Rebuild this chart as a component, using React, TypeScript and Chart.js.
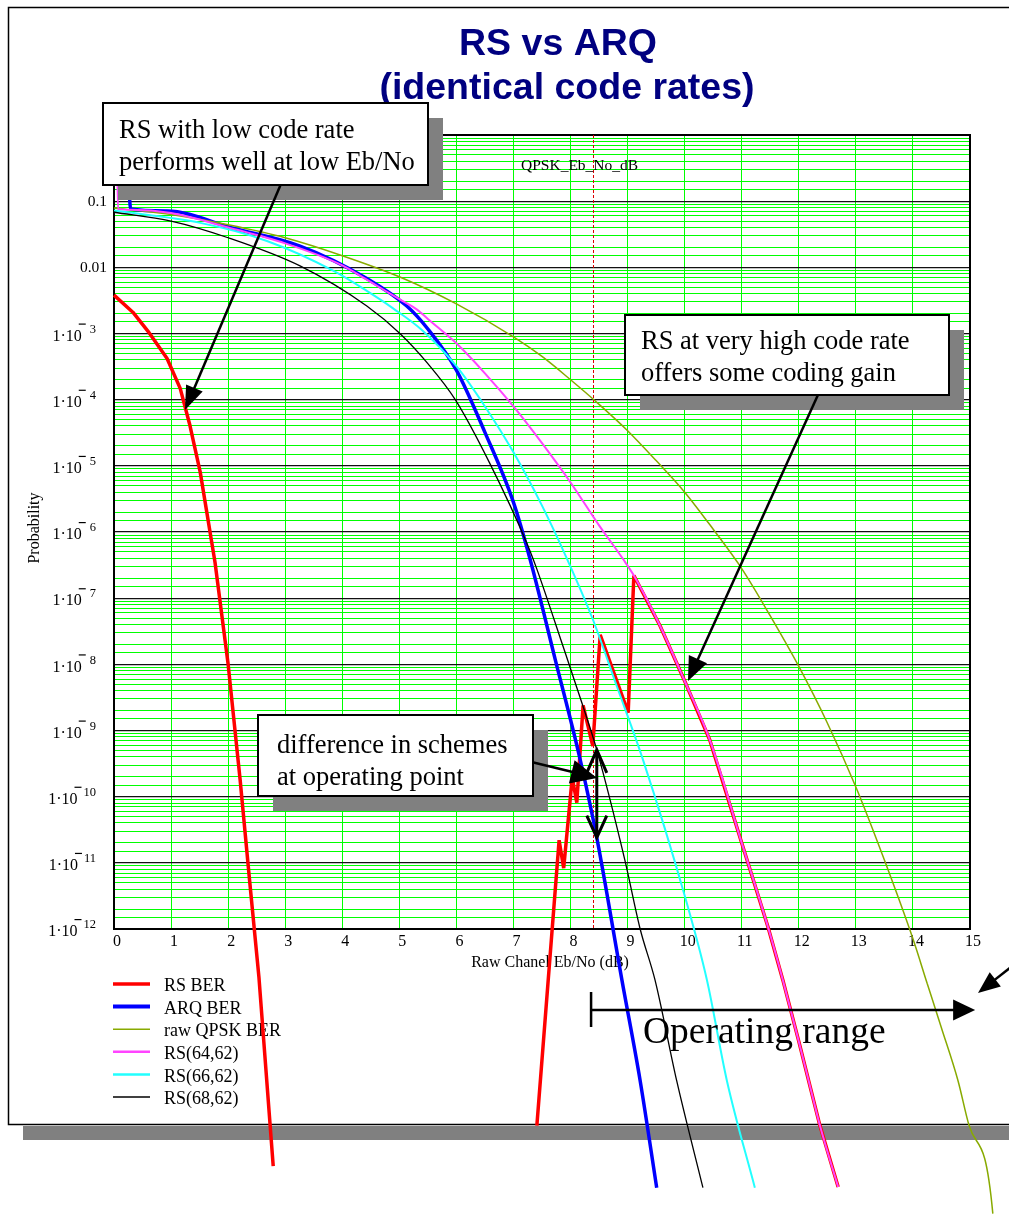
import React, { useEffect, useRef } from "react";
import { Chart, registerables } from "chart.js";

Chart.register(...registerables);

// ---------------- data ----------------
const TITLE_LINES = ["RS vs ARQ", "(identical code rates)"];
const X_AXIS_TITLE = "Raw Chanel Eb/No (dB)";
const Y_AXIS_TITLE = "Probability";
const X_TICK_LABELS = ["0", "1", "2", "3", "4", "5", "6", "7", "8", "9", "10", "11", "12", "13", "14", "15"];
const Y_DECADE_EXPONENTS = [-12, -11, -10, -9, -8, -7, -6, -5, -4, -3, -2, -1, 0];
const Y_MINOR_STEPS = [1.5, 2, 3, 4, 5, 6, 7, 8, 9];

const SERIES_LABELS = ["RS BER", "ARQ BER", "raw QPSK BER", "RS(64,62)", "RS(66,62)", "RS(68,62)"];

// RS BER (adaptive): low-rate part, gap, high-rate part
const RS_BER_X = [0, 0.33, 0.6, 0.93, 1.16, 1.33, 1.51, 1.77, 2.0, 2.21, 2.38, 2.54, 2.79,
  5,
  7.41, 7.8, 7.88, 8.03, 8.11, 8.22, 8.39, 8.52, 9.01, 9.11, 9.57, 10.0, 10.44, 11.0, 11.46, 11.72, 12.0, 12.2, 12.37, 12.69];
const RS_BER_Y = [3.8e-3, 2.1e-3, 1.07e-3, 4.2e-4, 1.48e-4, 4.1e-5, 8.1e-6, 3.5e-7, 1.0e-8, 1.8e-10, 5.0e-12, 1.86e-13, 2.6e-16,
  null,
  1.07e-15, 2.2e-11, 8.3e-12, 1.95e-10, 8.1e-11, 2.4e-9, 5.8e-10, 2.8e-8, 1.86e-9, 2.2e-7, 3.8e-8, 5.6e-9, 7.2e-10, 2.0e-11, 1.07e-12, 1.7e-13, 2.0e-14, 4.1e-15, 1.07e-15, 1.26e-16];

const ARQ_BER_X = [0.27, 0.29, 0.93, 2.09, 3.26, 4.43, 5.13, 5.5, 6, 6.5, 7, 7.29, 7.73, 8.17, 8.46, 8.9, 9.22, 9.51];
const ARQ_BER_Y = [1.2e-1, 7.6e-2, 7.1e-2, 3.9e-2, 2.1e-2, 6.8e-3, 2.6e-3, 1.17e-3, 2.8e-4, 3.2e-5, 2.8e-6, 3.9e-7, 1.2e-8, 3.6e-10, 2.4e-11, 1.7e-13, 5.1e-15, 1.23e-16];

const RAW_QPSK_X = [0, 1, 2, 3, 4, 5, 6, 7, 7.5, 8, 8.5, 9, 9.5, 10, 10.5, 11, 11.5, 12, 12.5, 13, 13.5, 14, 14.25, 14.5, 14.79, 14.98, 15.4, 15.43];
const RAW_QPSK_Y = [7.9e-2, 6.3e-2, 4.4e-2, 2.8e-2, 1.5e-2, 7.2e-3, 2.8e-3, 8.9e-4, 4.5e-4, 2.0e-4, 8.5e-5, 3.4e-5, 1.2e-5, 4.0e-6, 1.1e-6, 2.8e-7, 5.4e-8, 9.3e-9, 1.3e-9, 1.4e-10, 1.1e-11, 7.1e-13, 1.5e-13, 3.2e-14, 5.1e-15, 1.1e-15, 5.0e-17, 1.5e-17];

const RS64_X = [0.05, 0.07, 0.3, 1, 2, 3, 4, 4.43, 5, 5.31, 5.5, 6, 6.5, 7, 7.5, 8, 8.5, 8.92, 9.11, 9.57, 10, 10.44, 11, 11.46, 11.72, 12, 12.2, 12.37, 12.69];
const RS64_Y = [1, 7.6e-2, 7.4e-2, 6.6e-2, 4.0e-2, 2.3e-2, 1.07e-2, 6.5e-3, 3.3e-3, 2.3e-3, 1.66e-3, 7.1e-4, 2.5e-4, 7.9e-5, 2.2e-5, 5.6e-6, 1.26e-6, 3.9e-7, 2.2e-7, 3.8e-8, 5.6e-9, 7.2e-10, 2.0e-11, 1.07e-12, 1.7e-13, 2.0e-14, 4.1e-15, 1.07e-15, 1.26e-16];

const RS66_X = [0, 1.51, 2.68, 3.84, 4.43, 4.89, 5.4, 6, 6.5, 7, 7.5, 7.94, 8.39, 8.81, 9.27, 10, 10.39, 10.74, 11.23];
const RS66_Y = [7.2e-2, 4.7e-2, 2.5e-2, 8.9e-3, 4.4e-3, 2.4e-3, 1.12e-3, 3.2e-4, 7.9e-5, 1.6e-5, 2.5e-6, 3.9e-7, 4.8e-8, 4.7e-9, 3.6e-10, 3.2e-12, 1.7e-13, 5.1e-15, 1.23e-16];

const RS68_X = [0, 1, 2, 3.26, 4.43, 5.01, 5.5, 5.98, 6.59, 7.24, 7.41, 7.87, 8.22, 8.46, 8.95, 9.22, 9.48, 9.86, 10.32];
const RS68_Y = [6.8e-2, 5.0e-2, 2.8e-2, 1.05e-2, 2.6e-3, 1.0e-3, 3.5e-4, 1.0e-4, 1.07e-5, 6.6e-7, 2.75e-7, 1.86e-8, 2.3e-9, 5.1e-10, 1.12e-11, 1.0e-12, 1.7e-13, 5.1e-15, 1.23e-16];

const MARKER_DB = 8.39;
const MARKER_LABEL = "QPSK_Eb_No_dB";
const OPERATING_RANGE_DB = [8.36, 15.09];
const OPERATING_RANGE_LABEL = "Operating range";
const OPERATING_POINT_DB = 8.46;
const OPERATING_POINT_BER = [5.1e-10, 2.4e-11];
const NOTE_LOW_RATE = ["RS with low code rate", "performs well at low Eb/No"];
const NOTE_HIGH_RATE = ["RS at very high code rate", "offers some coding gain"];
const NOTE_DIFFERENCE = ["difference in schemes", "at operating point"];

// ---------------- styles ----------------
const SERIF = '"Liberation Serif", "Times New Roman", serif';
const SANS = '"Liberation Sans", Arial, sans-serif';

const SERIES = [
  { label: SERIES_LABELS[0], x: RS_BER_X, y: RS_BER_Y, color: "#ff0000", width: 3.5, smooth: false },
  { label: SERIES_LABELS[1], x: ARQ_BER_X, y: ARQ_BER_Y, color: "#0000ff", width: 3.5, smooth: true },
  { label: SERIES_LABELS[2], x: RAW_QPSK_X, y: RAW_QPSK_Y, color: "#88aa00", width: 1.5, smooth: true },
  { label: SERIES_LABELS[3], x: RS64_X, y: RS64_Y, color: "#ff44ff", width: 2, smooth: true },
  { label: SERIES_LABELS[4], x: RS66_X, y: RS66_Y, color: "#22ffff", width: 2, smooth: true },
  { label: SERIES_LABELS[5], x: RS68_X, y: RS68_Y, color: "#000000", width: 1.3, smooth: true },
];
const LEGEND_WIDTHS = [3.5, 4, 1.5, 2.5, 2.5, 1.5];

function arrowFilled(ctx: CanvasRenderingContext2D, x1: number, y1: number, x2: number, y2: number, lw: number, len: number, half: number) {
  const a = Math.atan2(y2 - y1, x2 - x1);
  const bx = x2 - len * Math.cos(a);
  const by = y2 - len * Math.sin(a);
  ctx.lineWidth = lw;
  ctx.beginPath();
  ctx.moveTo(x1, y1);
  ctx.lineTo(bx + 2 * Math.cos(a), by + 2 * Math.sin(a));
  ctx.stroke();
  ctx.beginPath();
  ctx.moveTo(x2, y2);
  ctx.lineTo(bx - half * Math.sin(a), by + half * Math.cos(a));
  ctx.lineTo(bx + half * Math.sin(a), by - half * Math.cos(a));
  ctx.closePath();
  ctx.fill();
}

function shadowBox(ctx: CanvasRenderingContext2D, x: number, y: number, w: number, h: number) {
  ctx.fillStyle = "#808080";
  ctx.fillRect(x + 15, y + 15, w, h);
}

function noteBox(ctx: CanvasRenderingContext2D, x: number, y: number, w: number, h: number, lines: string[], tx: number, base: number) {
  ctx.fillStyle = "#ffffff";
  ctx.fillRect(x, y, w, h);
  ctx.strokeStyle = "#000";
  ctx.lineWidth = 2;
  ctx.strokeRect(x, y, w, h);
  ctx.fillStyle = "#000";
  ctx.font = `26.5px ${SERIF}`;
  ctx.textAlign = "left";
  ctx.textBaseline = "alphabetic";
  lines.forEach((l, i) => ctx.fillText(l, tx, base + i * 32));
}

const decorPlugin = {
  id: "decor",
  beforeDraw(chart: any) {
    const ctx: CanvasRenderingContext2D = chart.ctx;
    ctx.save();
    ctx.fillStyle = "#fff";
    ctx.fillRect(0, 0, chart.width, chart.height);
    ctx.fillStyle = "#808080";
    ctx.fillRect(23, 1126, 1000, 14);
    ctx.strokeStyle = "#000";
    ctx.lineWidth = 1.5;
    ctx.strokeRect(8.5, 7.5, 1010, 1117);
    ctx.fillStyle = "#000080";
    ctx.font = `bold 37.5px ${SANS}`;
    ctx.textAlign = "center";
    ctx.textBaseline = "alphabetic";
    ctx.fillText(TITLE_LINES[0], 558, 55);
    ctx.fillText(TITLE_LINES[1], 567, 99);
    ctx.restore();
  },
  beforeDatasetsDraw(chart: any) {
    const ctx: CanvasRenderingContext2D = chart.ctx;
    const { left, right, top, bottom } = chart.chartArea;
    const xs = chart.scales.x;
    const ys = chart.scales.y;
    ctx.save();
    ctx.strokeStyle = "#000";
    ctx.lineWidth = 2;
    ctx.strokeRect(left, top, right - left, bottom - top);
    const mx = Math.round(xs.getPixelForValue(MARKER_DB)) + 0.5;
    ctx.strokeStyle = "#dd0000";
    ctx.lineWidth = 1;
    ctx.setLineDash([3, 2]);
    ctx.beginPath();
    ctx.moveTo(mx, top);
    ctx.lineTo(mx, bottom);
    ctx.stroke();
    ctx.setLineDash([]);
    ctx.fillStyle = "#000";
    ctx.font = `15.5px ${SERIF}`;
    ctx.textAlign = "left";
    ctx.textBaseline = "middle";
    ctx.fillText(MARKER_LABEL, 521, 166);
    ctx.font = `16px ${SERIF}`;
    ctx.textAlign = "center";
    xs.ticks.forEach((t: any, i: number) => {
      ctx.fillText(X_TICK_LABELS[i], xs.getPixelForValue(t.value) + 3, 942);
    });
    ys.ticks.forEach((t: any) => {
      if (!t.major) return;
      const e = Math.round(Math.log10(t.value));
      if (e >= 0) return;
      const py = ys.getPixelForValue(t.value);
      ctx.textBaseline = "middle";
      if (e >= -2) {
        ctx.font = `15.5px ${SERIF}`;
        ctx.textAlign = "right";
        ctx.fillText(e === -1 ? "0.1" : "0.01", 107, py + 1);
        return;
      }
      const digits = String(-e);
      ctx.font = `12.5px ${SERIF}`;
      ctx.textAlign = "right";
      ctx.fillText(digits, 96, py - 4);
      const dw = ctx.measureText(digits).width;
      const barR = 96 - dw - (digits.length > 1 ? 2 : 4);
      ctx.fillRect(barR - 7, py - 10, 7, 1.2);
      ctx.font = `16px ${SERIF}`;
      ctx.fillText("1\u00b710", barR - 4, py + 3);
    });
    ctx.font = `16px ${SERIF}`;
    ctx.textAlign = "center";
    ctx.textBaseline = "middle";
    ctx.fillText(X_AXIS_TITLE, 550, 963);
    ctx.save();
    ctx.translate(35, 528);
    ctx.rotate(-Math.PI / 2);
    ctx.fillText(Y_AXIS_TITLE, 0, 0);
    ctx.restore();
    chart.data.datasets.forEach((ds: any, i: number) => {
      const y = 984 + i * 22.6;
      ctx.strokeStyle = ds.borderColor;
      ctx.lineWidth = LEGEND_WIDTHS[i];
      ctx.beginPath();
      ctx.moveTo(113, y);
      ctx.lineTo(150, y);
      ctx.stroke();
      ctx.fillStyle = "#000";
      ctx.font = `18px ${SERIF}`;
      ctx.textAlign = "left";
      ctx.textBaseline = "middle";
      ctx.fillText(ds.label, 164, y + 2.5);
    });
    ctx.restore();
  },
  afterDatasetsDraw(chart: any) {
    const ctx: CanvasRenderingContext2D = chart.ctx;
    const xs = chart.scales.x;
    const ys = chart.scales.y;
    ctx.save();
    shadowBox(ctx, 103, 103, 325, 82);
    shadowBox(ctx, 625, 315, 324, 80);
    shadowBox(ctx, 258, 715, 275, 81);
    ctx.strokeStyle = "#000";
    ctx.fillStyle = "#000";
    ctx.lineCap = "butt";
    arrowFilled(ctx, 289, 165, 185, 410, 2.5, 24, 9);
    arrowFilled(ctx, 827, 375, 688, 681, 2.5, 24, 10);
    arrowFilled(ctx, 515, 758, 597, 778, 2.5, 26, 12);
    arrowFilled(ctx, 1030, 952, 978, 993, 2.5, 22, 9);
    const ox = xs.getPixelForValue(OPERATING_POINT_DB);
    const oy1 = ys.getPixelForValue(OPERATING_POINT_BER[0]);
    const oy2 = ys.getPixelForValue(OPERATING_POINT_BER[1]);
    ctx.lineWidth = 3;
    ctx.beginPath();
    ctx.moveTo(ox, oy1);
    ctx.lineTo(ox, oy2);
    ctx.moveTo(ox - 10, oy1 + 23);
    ctx.lineTo(ox, oy1);
    ctx.lineTo(ox + 10, oy1 + 23);
    ctx.moveTo(ox - 10, oy2 - 22);
    ctx.lineTo(ox, oy2);
    ctx.lineTo(ox + 10, oy2 - 22);
    ctx.stroke();
    noteBox(ctx, 103, 103, 325, 82, NOTE_LOW_RATE, 119, 138);
    noteBox(ctx, 625, 315, 324, 80, NOTE_HIGH_RATE, 641, 349);
    noteBox(ctx, 258, 715, 275, 81, NOTE_DIFFERENCE, 277, 753);
    const rx1 = xs.getPixelForValue(OPERATING_RANGE_DB[0]);
    const rx2 = xs.getPixelForValue(OPERATING_RANGE_DB[1]);
    ctx.strokeStyle = "#000";
    ctx.fillStyle = "#000";
    ctx.lineWidth = 2.5;
    ctx.beginPath();
    ctx.moveTo(rx1, 992);
    ctx.lineTo(rx1, 1027);
    ctx.stroke();
    arrowFilled(ctx, rx1, 1010, rx2, 1010, 2.5, 22, 10.5);
    ctx.font = `37.5px ${SERIF}`;
    ctx.textAlign = "left";
    ctx.textBaseline = "alphabetic";
    ctx.fillText(OPERATING_RANGE_LABEL, 643, 1043);
    ctx.restore();
  },
};

export default function App() {
  const ref = useRef<HTMLCanvasElement | null>(null);
  useEffect(() => {
    if (!ref.current) return;
    const datasets = SERIES.map((s, i) => ({
      label: s.label,
      data: s.x.map((x, j) => ({ x, y: s.y[j] })),
      borderColor: s.color,
      backgroundColor: s.color,
      borderWidth: s.width,
      pointRadius: 0,
      tension: 0,
      cubicInterpolationMode: s.smooth ? "monotone" : "default",
      clip: false as any,
      spanGaps: false,
      borderJoinStyle: "bevel" as const,
      order: SERIES.length - i,
    }));
    const chart = new Chart(ref.current, {
      type: "line",
      data: { datasets },
      options: {
        responsive: false,
        animation: false,
        events: [],
        layout: { padding: { left: 114, top: 135, right: 39, bottom: 301 } },
        plugins: { legend: { display: false }, tooltip: { enabled: false }, title: { display: false } },
        scales: {
          x: {
            type: "linear",
            min: 0,
            max: 15,
            afterBuildTicks: (s: any) => {
              s.ticks = X_TICK_LABELS.map((l) => ({ value: Number(l) }));
            },
            afterFit: (s: any) => {
              s.height = 0;
            },
            ticks: { display: false },
            border: { display: false },
            grid: {
              drawTicks: false,
              color: (c: any) => (c.tick && (c.tick.value === 0 || c.tick.value === 15) ? "#000" : "#00ff00"),
              lineWidth: 1,
            },
          },
          y: {
            type: "logarithmic",
            min: 1e-12,
            max: 1,
            afterBuildTicks: (s: any) => {
              const t: any[] = [];
              Y_DECADE_EXPONENTS.forEach((e) => {
                t.push({ value: Math.pow(10, e), major: true });
                if (e < 0) Y_MINOR_STEPS.forEach((m) => t.push({ value: m * Math.pow(10, e), major: false }));
              });
              t.sort((a, b) => a.value - b.value);
              s.ticks = t;
            },
            afterFit: (s: any) => {
              s.width = 0;
            },
            ticks: { display: false },
            border: { display: false },
            grid: {
              drawTicks: false,
              color: (c: any) => (c.tick && c.tick.major ? "#111" : "#00ff00"),
              lineWidth: (c: any) => (c.tick && c.tick.major ? 1.3 : 1),
            },
          },
        },
      },
      plugins: [decorPlugin],
    } as any);
    return () => chart.destroy();
  }, []);
  return (
    <div style={{ position: "absolute", left: 0, top: 0, width: 1009, height: 1230 }}>
      <canvas ref={ref} width={1009} height={1230} style={{ width: 1009, height: 1230, display: "block" }} />
    </div>
  );
}
